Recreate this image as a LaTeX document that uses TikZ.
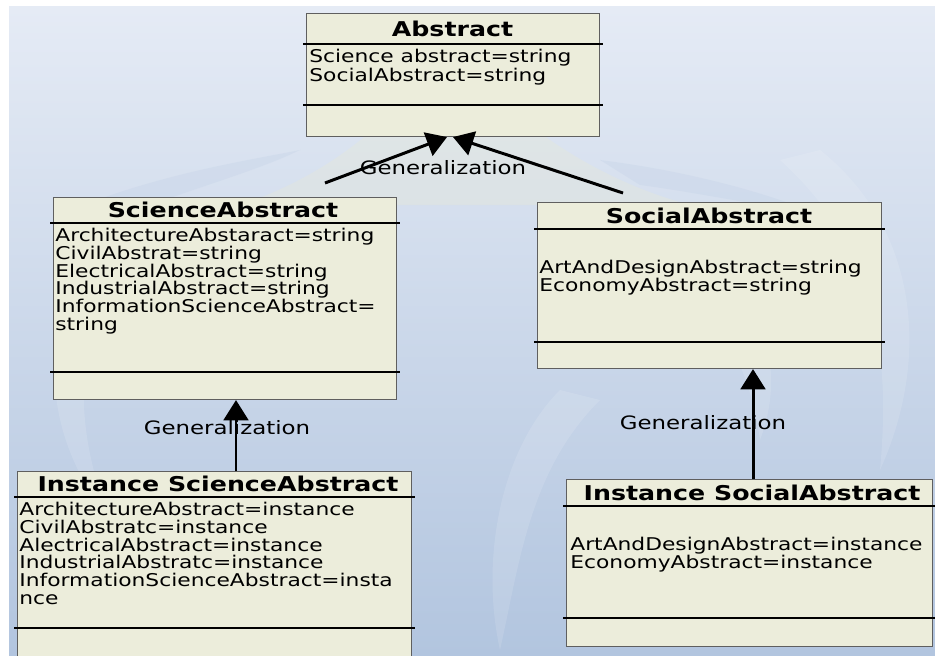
\documentclass[tikz,border=0pt]{standalone}
\usepackage{fontspec}
\setmainfont{DejaVu Sans}[FakeStretch=1.24]
\usetikzlibrary{arrows.meta,calc}

\definecolor{boxfill}{RGB}{236,237,219}
\definecolor{boxedge}{RGB}{95,95,95}
\definecolor{bgtop}{RGB}{229,235,245}
\definecolor{bgbottom}{RGB}{178,197,223}
\definecolor{markfill}{RGB}{232,233,214}

\tikzset{
  classbox/.style={draw=boxedge, line width=0.6pt, fill=boxfill, inner sep=0pt},
  divider/.style={line width=1.6pt, black},
  classtitle/.style={inner sep=0pt, font=\fontsize{11.6}{13}\selectfont\bfseries},
  attrs/.style={inner sep=0pt, anchor=north west, align=left,
                font=\fontsize{10}{10.07}\selectfont},
  genlabel/.style={inner sep=0pt, font=\fontsize{10.5}{12}\selectfont},
  gen/.style={line width=1.7pt, black,
              -{Triangle[length=11.5pt, width=14pt]}, shorten >=0pt},
  emblem/.style={fill=white, opacity=0.12, draw=none},
}

% name, left, top, right, bottom, first divider, second divider
\newcommand\umlclass[7]{%
  \node[classbox, anchor=north west,
        minimum width={(#4-#2)*0.02cm}, minimum height={(#5-#3)*0.02cm}]
        (#1) at (#2,#3) {};
  \draw[divider] ($(#1.north west)+(-3,#6-#3)$) -- ($(#1.north east)+(3,#6-#3)$);
  \draw[divider] ($(#1.north west)+(-3,#7-#3)$) -- ($(#1.north east)+(3,#7-#3)$);
}

\begin{document}
\begin{tikzpicture}[x=0.02cm, y=-0.02cm]
  % page and backdrop
  \fill[white] (0,0) rectangle (935,655);
  \useasboundingbox (0,0) rectangle (935,655);
  \shade[top color=bgtop, bottom color=bgbottom] (9,7) rectangle (935,655);

  % faint emblem in the backdrop
  \fill[markfill, opacity=0.35]
    (240,205) .. controls (360,165) and (410,90) .. (448,55)
    .. controls (490,90) and (560,170) .. (690,205) -- cycle;
  \fill[bgbottom, opacity=0.18]
    (60,215) .. controls (150,175) and (250,160) .. (300,150)
    .. controls (250,175) and (150,200) .. (90,230) -- cycle;
  \fill[bgbottom, opacity=0.18]
    (600,160) .. controls (680,170) and (760,190) .. (820,215)
    .. controls (760,205) and (680,190) .. (640,185) -- cycle;
  \fill[emblem]
    (120,230) .. controls (40,300) and (30,420) .. (110,520)
    .. controls (70,420) and (70,310) .. (150,235) -- cycle;
  \fill[emblem]
    (560,390) .. controls (500,450) and (480,560) .. (500,650)
    .. controls (520,560) and (530,470) .. (600,400) -- cycle;
  \fill[emblem]
    (820,150) .. controls (920,230) and (930,360) .. (880,470)
    .. controls (890,360) and (880,250) .. (780,160) -- cycle;
  \fill[emblem]
    (660,230) .. controls (760,280) and (790,360) .. (760,440)
    .. controls (750,370) and (720,300) .. (640,250) -- cycle;

  % classes
  \umlclass{abs}{306}{13}{599}{136}{44}{105}
  \umlclass{sci}{53}{197}{396}{399}{223}{372}
  \umlclass{soc}{537}{202}{881}{368}{229}{342}
  \umlclass{isci}{17}{471}{411}{662}{497}{628}
  \umlclass{isoc}{566}{479}{932}{646}{506}{618}

  % class names
  \node[classtitle] (abs-name)  at (452.5,28.5) {Abstract};
  \node[classtitle] (sci-name)  at (223,210)    {ScienceAbstract};
  \node[classtitle] (soc-name)  at (709,215.5)  {SocialAbstract};
  \node[classtitle] (isci-name) at (218,484)    {Instance ScienceAbstract};
  \node[classtitle] (isoc-name) at (752,493)    {Instance SocialAbstract};

  % attributes
  \node[attrs, font=\fontsize{10}{10.8}\selectfont] (abs-attr) at (309,49)
    {Science abstract=string\\SocialAbstract=string};
  \node[attrs] (sci-attr) at (55,228)
    {ArchitectureAbstaract=string\\CivilAbstrat=string\\ElectricalAbstract=string\\
     IndustrialAbstract=string\\InformationScienceAbstract=\\string};
  \node[attrs] (soc-attr) at (539,260)
    {ArtAndDesignAbstract=string\\EconomyAbstract=string};
  \node[attrs] (isci-attr) at (19,502)
    {ArchitectureAbstract=instance\\CivilAbstratc=instance\\AlectricalAbstract=instance\\
     IndustrialAbstratc=instance\\InformationScienceAbstract=insta\\nce};
  \node[attrs] (isoc-attr) at (570,537)
    {ArtAndDesignAbstract=instance\\EconomyAbstract=instance};

  % generalization connectors
  \coordinate (sci-up) at (325,183);
  \coordinate (soc-up) at (623,193);
  \draw[gen] (sci-up) -- ($(abs.south)+(-6,0)$);
  \draw[gen] (soc-up) -- (abs.south);
  \draw[gen] ($(isci.north west)+(219,0)$) -- ($(sci.south west)+(183,0)$);
  \draw[gen] ($(isoc.north west)+(187,0)$) -- ($(soc.south west)+(216,0)$);

  \node[genlabel] (lbl-top)   at (443,168) {Generalization};
  \node[genlabel] (lbl-left)  at (227,428) {Generalization};
  \node[genlabel] (lbl-right) at (703,423) {Generalization};
\end{tikzpicture}
\end{document}
